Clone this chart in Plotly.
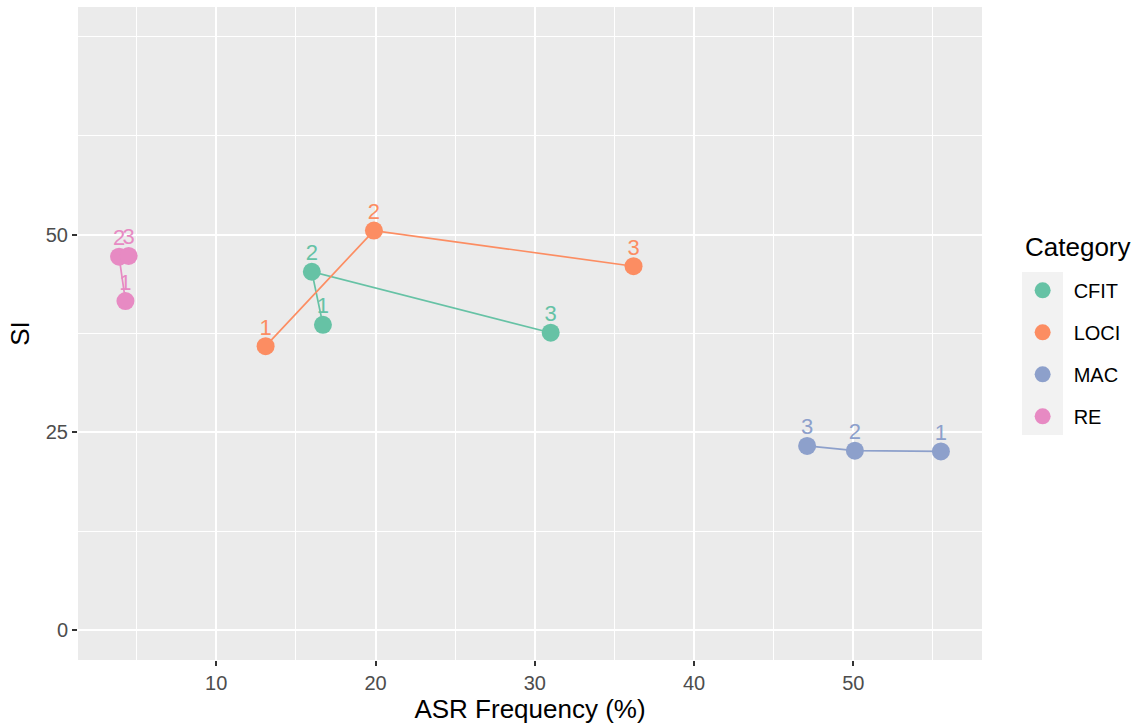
import plotly.graph_objects as go

categories = ["CFIT", "LOCI", "MAC", "RE"]
colors = ["#66C2A5", "#FC8D62", "#8DA0CB", "#E78AC3"]
step_labels = ["1", "2", "3"]
asr_freq = {
    "CFIT": [16.7, 16.0, 31.0],
    "LOCI": [13.1, 19.9, 36.2],
    "MAC": [55.5, 50.1, 47.1],
    "RE": [4.3, 3.9, 4.5],
}
si_vals = {
    "CFIT": [38.6, 45.3, 37.6],
    "LOCI": [35.9, 50.5, 46.0],
    "MAC": [22.6, 22.7, 23.3],
    "RE": [41.6, 47.2, 47.3],
}
x_major = [10, 20, 30, 40, 50]
x_minor = [5, 15, 25, 35, 45, 55]
y_major = [0, 25, 50]
y_minor = [12.5, 37.5, 62.5, 75]

FONT = "Liberation Sans, Arial, sans-serif"
fig = go.Figure()

for cat, col in zip(categories, colors):
    fig.add_trace(go.Scatter(x=asr_freq[cat], y=si_vals[cat], mode="lines",
                             line=dict(color=col, width=1.7), legendgroup=cat,
                             showlegend=False, hoverinfo="skip"))
for cat, col in zip(categories, colors):
    fig.add_trace(go.Scatter(x=asr_freq[cat], y=si_vals[cat], mode="markers",
                             marker=dict(color=col, size=18), name=cat,
                             legendgroup=cat, showlegend=True))
for cat, col in zip(categories, colors):
    fig.add_trace(go.Scatter(x=asr_freq[cat], y=si_vals[cat], mode="markers+text",
                             text=step_labels, textposition="top center",
                             marker=dict(size=8, opacity=0, color=col),
                             textfont=dict(color=col, size=22, family=FONT),
                             legendgroup=cat, showlegend=False, hoverinfo="skip"))

axis_common = dict(
    showline=False, zeroline=False, showgrid=True, gridcolor="white", gridwidth=2,
    ticks="outside", ticklen=5, tickwidth=1.5, tickcolor="#333333",
    tickfont=dict(size=20, color="#4D4D4D", family=FONT),
    title_font=dict(size=26, color="black", family=FONT),
    automargin=False,
)

fig.update_xaxes(range=[1.32, 58.08], tickmode="array", tickvals=x_major,
                 minor=dict(tickmode="array", tickvals=x_minor, showgrid=True,
                            gridcolor="white", gridwidth=1, ticks=""),
                 title_text="ASR Frequency (%)", title_standoff=4, **axis_common)
fig.update_yaxes(range=[-3.75, 78.75], tickmode="array", tickvals=y_major,
                 minor=dict(tickmode="array", tickvals=y_minor, showgrid=True,
                            gridcolor="white", gridwidth=1, ticks=""),
                 title_text="SI", title_standoff=8, **axis_common)

fig.add_shape(type="rect", xref="paper", yref="paper", x0=1.0442, x1=1.0896,
              y0=0.3446, y1=0.594, fillcolor="#F2F2F2", line_width=0, layer="below")

fig.add_annotation(text="Category", xref="paper", yref="paper", x=1.0454, y=0.6325,
                   xanchor="left", yanchor="middle", showarrow=False,
                   font=dict(size=26, color="black", family=FONT))

fig.update_layout(
    width=1134, height=726,
    margin=dict(l=78, r=152, t=7, b=66, autoexpand=False),
    plot_bgcolor="#EBEBEB", paper_bgcolor="white",
    font=dict(family=FONT),
    legend=dict(font=dict(size=20, color="black", family=FONT),
                x=1.0328, xanchor="left", y=0.596, yanchor="top",
                traceorder="grouped", tracegroupgap=13, itemwidth=52,
                bgcolor="rgba(0,0,0,0)"),
)

fig.write_html("out.html", config={"displayModeBar": False},
               post_script="document.body.style.margin='0';document.body.style.overflow='hidden';")
